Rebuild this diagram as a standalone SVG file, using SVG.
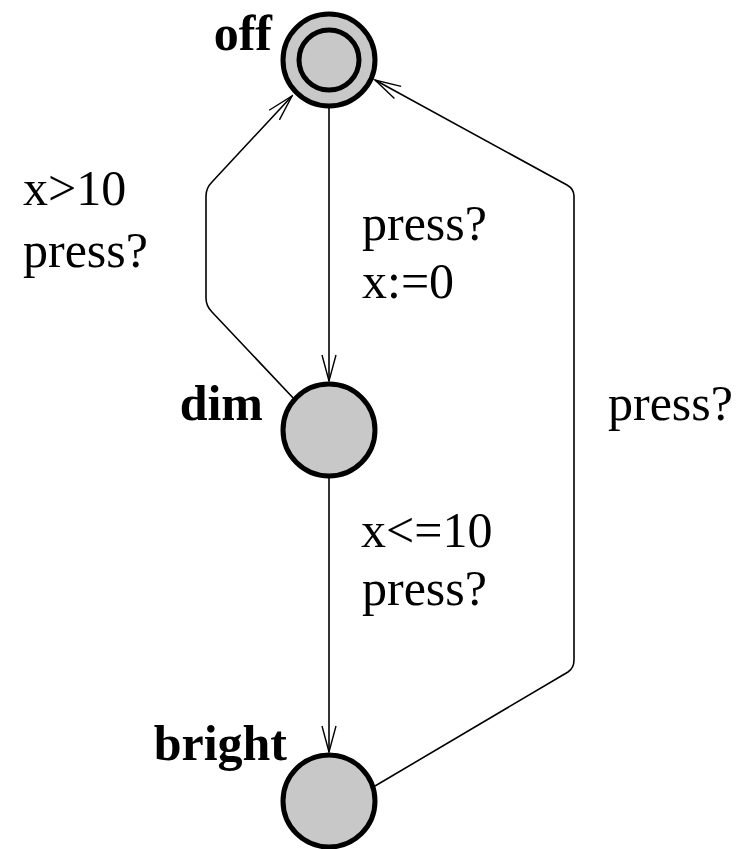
<svg xmlns="http://www.w3.org/2000/svg" width="744" height="849" viewBox="0 0 744 849">
<style>
.loc{fill:#c8c8c8;stroke:#000;stroke-width:5}
.name{font-family:"Liberation Serif",serif;font-weight:bold;font-size:50px;fill:#000;text-anchor:end}
.lbl{font-family:"Liberation Serif",serif;font-size:50px;fill:#000}
.edge{fill:none;stroke:#000;stroke-width:1.6}
</style>
<defs>
<marker id="arr" markerUnits="userSpaceOnUse" markerWidth="30" markerHeight="20" viewBox="-28 -10 30 20" refX="0" refY="0" orient="auto">
<path d="M-26,-7 L0,0 L-26,7" fill="none" stroke="#000" stroke-width="1.4"/>
</marker>
</defs>
<rect width="744" height="849" fill="#fff"/>
<g id="edges">
<path class="edge" d="M329,108 L329,381" marker-end="url(#arr)"/>
<path class="edge" d="M329,478 L329,752" marker-end="url(#arr)"/>
<path class="edge" d="M296,401 L212,312 Q206,306 206,298 L206,196 Q206,188 212,182 L292,96" marker-end="url(#arr)"/>
<path class="edge" d="M375,786 L568,672 Q574,668 574,660 L574,196 Q574,189 567,185 L375,80" marker-end="url(#arr)"/>
</g>
<g id="off">
<circle class="loc" cx="329" cy="60" r="46"/>
<circle class="loc" cx="329" cy="60" r="30" stroke-width="4.5"/>
<text class="name" x="272" y="50">off</text>
</g>
<g id="dim">
<circle class="loc" cx="329" cy="430" r="46"/>
<text class="name" x="263" y="420">dim</text>
</g>
<g id="bright">
<circle class="loc" cx="329" cy="801" r="46"/>
<text class="name" x="287" y="760">bright</text>
</g>
<g id="labels">
<text class="lbl" x="23" y="205">x&gt;10</text>
<text class="lbl" x="23" y="267">press?</text>
<text class="lbl" x="362" y="240">press?</text>
<text class="lbl" x="362" y="298">x:=0</text>
<text class="lbl" x="361" y="547">x&lt;=10</text>
<text class="lbl" x="362" y="605">press?</text>
<text class="lbl" x="608" y="420">press?</text>
</g>
</svg>
